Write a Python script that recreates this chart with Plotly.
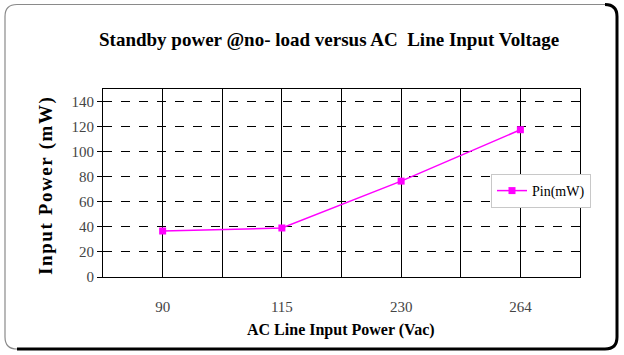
import plotly.graph_objects as go

categories = ["90", "115", "230", "264"]
pin_mw = [36.7, 39.1, 76.5, 117.5]
y_ticks = [0, 20, 40, 60, 80, 100, 120, 140]

W, H = 624, 355
L, R, T, B = 103, 580, 89, 277


def px(x):
    return (x - L) / (R - L)


def py(y):
    return (B - y) / (B - T)


xs = list(range(len(categories)))

serif = "Liberation Serif"

fig = go.Figure()
fig.add_trace(go.Scatter(
    x=xs, y=pin_mw, mode="lines+markers", name="Pin(mW)",
    line=dict(color="#FF00FF", width=1.5),
    marker=dict(symbol="square", size=7, color="#FF00FF"),
))

# frame path (rounded) : gray left/top, black right/bottom
r = 12
x0, y0, x1, y1 = 5, 4.5, 617, 349


def P(x, y):
    return f"{px(x):.5f},{py(y):.5f}"


gray_path = (f"M {P(x0 + r, y1)} Q {P(x0, y1)} {P(x0, y1 - r)} L {P(x0, y0 + r)} "
             f"Q {P(x0, y0)} {P(x0 + r, y0)} L {P(x1 - r, y0)}")
black_path = (f"M {P(x1 - r, y0)} Q {P(x1, y0)} {P(x1, y0 + r)} L {P(x1, y1 - r)} "
              f"Q {P(x1, y1)} {P(x1 - r, y1)} L {P(x0 + r, y1)}")

shapes = [
    dict(type="path", xref="paper", yref="paper", path=gray_path,
         line=dict(color="#8a8a8a", width=1.2), layer="below"),
    dict(type="path", xref="paper", yref="paper", path=black_path,
         line=dict(color="#000000", width=3), layer="below"),
]

fig.update_layout(
    width=W, height=H,
    margin=dict(l=L, r=W - R, t=T, b=H - B),
    paper_bgcolor="white", plot_bgcolor="white",
    font=dict(family=serif),
    shapes=shapes,
    showlegend=True,
    legend=dict(x=px(491), y=py(174), xanchor="left", yanchor="top",
                bgcolor="white", bordercolor="#c8c8c8", borderwidth=1,
                font=dict(family=serif, size=14, color="#000"),
                itemwidth=30),
    xaxis=dict(
        range=[-0.5, len(categories) - 0.5],
        tickmode="array", tickvals=xs, ticktext=categories,
        showgrid=True, gridcolor="#000", gridwidth=1,
        minor=dict(tickmode="array",
                   tickvals=[i - 0.5 for i in range(len(categories) + 1)],
                   showgrid=True, gridcolor="#000", gridwidth=1, ticks=""),
        showline=True, linecolor="#000", linewidth=1, mirror=True,
        ticks="", ticklabelstandoff=16,
        tickfont=dict(family=serif, size=15, color="#444"),
        zeroline=False, fixedrange=True,
    ),
    yaxis=dict(
        range=[0, 150],
        tickmode="array", tickvals=y_ticks,
        showgrid=True, gridcolor="#000", gridwidth=1, griddash="dash",
        showline=True, linecolor="#000", linewidth=1, mirror=True,
        ticks="outside", ticklen=5, tickcolor="#000",
        tickfont=dict(family=serif, size=15, color="#444"),
        zeroline=False, fixedrange=True,
    ),
    annotations=[
        dict(text="<b>Standby power @no- load versus AC  Line Input Voltage</b>",
             xref="paper", yref="paper", x=px(329), y=py(40),
             xanchor="center", yanchor="middle", showarrow=False,
             font=dict(family=serif, size=19, color="#000")),
        dict(text="<b>AC Line Input Power (Vac)</b>",
             xref="paper", yref="paper", x=px(341), y=py(330),
             xanchor="center", yanchor="middle", showarrow=False,
             font=dict(family=serif, size=16, color="#000")),
        dict(text="<b>I\u200an\u200ap\u200au\u200at\u200a \u200aP\u200ao\u200aw\u200ae\u200ar\u200a \u200a(\u200am\u200aW\u200a)</b>",
             xref="paper", yref="paper", x=px(46), y=py(186),
             xanchor="center", yanchor="middle", showarrow=False, textangle=-90,
             font=dict(family=serif, size=19, color="#000")),
    ],
)

fig.write_html("out.html")
